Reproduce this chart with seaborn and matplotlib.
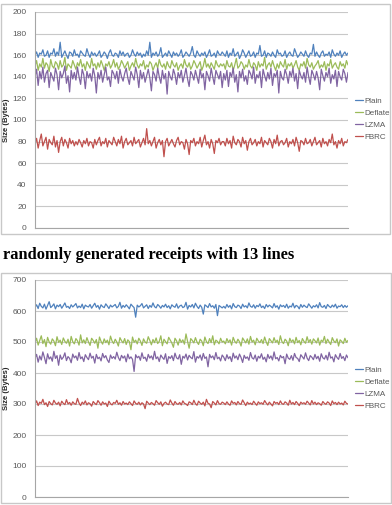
import pandas as pd
import seaborn as sns
import matplotlib.pyplot as plt
from matplotlib.patches import Rectangle

methods = ["Plain", "Deflate", "LZMA", "FBRC"]
colors = ["#4F81BD", "#9BBB59", "#8064A2", "#C0504D"]

# --- chart 1: sizes (bytes) per generated receipt ---
plain_1 = [160,163,158,162,161,165,159,160,164,158,162,161,166,159,163,160,172,158,161,164,160,157,163,162,159,165,160,161,158,164,
           162,160,159,166,161,158,163,160,162,159,161,164,158,160,163,161,157,162,165,160,159,162,161,158,164,160,163,159,161,162,
           158,160,165,161,159,163,160,162,158,161,159,164,160,172,158,162,160,163,159,161,167,158,160,162,159,164,161,158,163,160,
           162,159,161,165,158,160,163,161,159,162,168,160,158,164,161,159,162,160,163,158,161,165,159,160,162,158,164,161,160,163,
           161,159,164,158,162,160,166,159,161,163,157,160,165,162,158,161,164,159,160,163,
           158,162,161,169,159,160,164,158,162,161,159,163,160,158,165,161,162,159,160,164,
           158,161,163,160,159,166,162,158,160,163,161,159,164,160,158,162,161,170,159,163,
           160,158,162,164,159,161,160,163,158,165,161,159,162,160,164,158,161,163,160,162]
deflate_1 = [150,155,146,152,149,157,148,153,151,145,156,150,148,154,152,147,155,149,151,158,146,152,150,148,155,151,147,153,150,156,
             149,152,146,154,151,148,157,150,152,147,153,149,155,151,146,152,150,154,148,151,156,149,153,147,150,155,152,148,151,154,
             146,150,153,149,157,151,148,152,150,155,147,151,149,154,152,146,150,153,148,156,151,149,152,147,154,150,148,155,151,149,
             153,146,150,152,148,156,151,149,153,147,150,155,152,148,151,154,146,150,157,149,152,148,153,150,147,155,151,149,152,150,
             152,147,155,150,149,153,146,151,157,148,150,154,152,147,151,149,156,150,148,153,
             151,146,154,149,152,150,158,147,151,153,149,155,150,146,152,148,154,151,149,156,
             147,152,150,153,148,151,155,149,146,152,150,154,148,157,151,149,153,147,150,152,
             155,148,151,149,154,146,152,150,156,148,151,153,149,147,154,150,152,148,155,151]
lzma_1 = [140,147,132,145,138,149,135,143,146,130,144,140,136,148,142,128,145,139,143,150,134,141,126,146,138,144,137,149,140,133,
          147,142,129,145,139,143,136,148,141,125,144,138,146,135,142,149,137,140,131,146,143,138,145,134,147,140,136,143,148,139,
          133,145,141,137,149,142,130,146,138,144,135,141,147,139,127,145,142,136,148,140,134,146,138,143,124,145,140,137,147,142,
          133,144,139,146,135,141,148,138,131,145,142,137,146,140,134,147,139,143,128,145,141,136,148,140,133,146,142,138,145,130,
          143,137,146,131,144,140,148,135,142,126,145,139,147,136,141,133,146,143,138,149,
          134,142,139,145,130,147,141,136,144,138,148,132,143,140,146,125,145,139,137,147,
          142,134,145,140,148,136,143,129,146,141,138,144,135,149,140,133,146,142,137,145,
          139,128,147,141,136,144,140,148,134,142,138,146,131,145,140,137,147,143,135,144]
fbrc_1 = [78,83,74,81,87,76,80,84,73,82,79,77,85,75,81,70,80,84,76,82,79,74,83,78,81,76,80,77,82,79,
          75,81,78,83,76,80,79,74,82,77,81,84,76,80,78,83,75,81,79,77,84,80,76,82,78,85,74,80,83,77,
          79,81,76,84,78,80,82,75,79,83,77,92,78,81,76,80,84,74,79,82,77,81,66,80,83,76,79,82,78,75,
          81,84,77,80,79,73,82,78,68,81,79,83,76,80,78,84,75,81,86,77,80,74,82,78,69,81,79,83,77,80,
          80,76,83,78,81,74,85,79,77,82,80,75,84,78,81,72,80,83,77,79,
          82,76,80,78,84,75,81,79,77,83,80,74,82,78,86,76,80,81,77,79,
          83,75,80,78,82,76,84,79,71,81,80,77,83,78,79,82,76,80,84,77,
          79,81,75,83,78,80,76,82,79,87,77,80,74,81,78,83,76,80,79,82]

# --- chart 2: receipts with 13 lines ---
plain_2 = [612,620,608,625,615,610,622,606,618,630,611,616,623,607,619,614,621,609,617,626,612,615,608,620,613,618,624,610,616,611,
           622,607,619,615,613,621,609,617,625,612,618,606,620,614,611,623,616,608,619,613,617,621,610,615,628,609,618,612,620,614,
           607,622,616,611,580,619,613,617,624,610,615,620,608,618,612,626,614,610,621,616,609,618,613,622,611,617,607,620,615,612,
           623,609,616,619,611,614,628,606,618,613,621,610,625,615,608,619,612,590,620,616,611,624,613,617,609,621,585,618,614,610,
           615,609,621,612,618,607,624,614,611,619,616,608,622,613,617,610,626,615,612,620,
           609,618,614,623,611,616,608,621,613,619,615,610,624,612,617,606,620,614,618,611,
           622,609,616,613,625,610,618,615,607,621,612,619,614,611,623,616,609,617,613,620,
           610,627,614,612,618,608,621,615,611,619,613,622,609,616,614,620,611,618,612,617]
deflate_2 = [498,512,490,505,520,495,508,485,515,500,493,510,503,488,517,499,506,492,513,502,496,509,487,518,501,494,511,504,490,523,
             497,507,495,514,500,489,512,505,496,508,480,516,502,493,510,498,506,491,519,503,495,509,500,487,514,504,497,511,492,507,
             501,475,516,499,506,494,512,503,489,510,500,496,517,505,491,508,498,513,495,502,520,488,509,501,494,515,506,497,483,512,
             504,490,510,499,507,493,526,502,480,511,505,497,514,500,492,509,503,488,516,501,495,511,498,520,491,506,502,494,512,500,
             503,494,511,499,507,490,515,502,496,509,501,487,513,505,497,510,493,518,500,506,
             491,512,503,498,508,495,516,500,489,511,504,497,514,499,506,492,520,501,495,509,
             503,488,512,500,507,494,515,498,505,491,511,502,496,517,499,508,493,510,504,497,
             513,490,506,501,518,495,509,500,492,514,503,498,510,487,507,502,495,512,499,505]
lzma_2 = [448,460,435,455,442,468,450,430,462,445,452,438,470,447,456,425,458,444,451,465,440,453,447,433,461,449,455,441,466,446,
          452,437,459,450,443,464,448,454,432,460,446,451,439,463,449,456,442,434,458,447,453,445,467,450,440,457,448,455,436,461,
          446,452,444,405,459,449,454,441,465,447,451,438,460,448,455,443,470,446,452,437,458,450,444,462,431,453,447,456,440,464,
          449,445,459,428,454,448,461,442,457,450,446,469,435,453,448,458,441,463,447,452,420,460,449,455,443,466,446,451,439,458,
          451,440,459,446,453,437,464,448,455,443,461,450,434,457,447,452,441,466,449,445,
          458,438,454,448,462,444,451,436,460,447,455,442,468,446,450,439,457,449,453,430,
          461,448,444,456,441,463,450,447,437,459,452,445,465,448,440,456,451,443,460,446,
          454,438,462,449,445,457,442,467,448,452,436,459,450,444,463,447,453,440,458,449]
fbrc_2 = [300,310,295,306,302,315,298,304,292,308,301,297,312,303,299,306,294,309,302,298,314,300,305,296,307,301,299,318,303,295,
          306,300,310,297,304,301,293,308,302,298,311,304,296,307,300,303,292,309,301,297,305,302,312,299,304,296,308,300,303,298,
          307,301,295,310,302,299,306,297,304,300,285,309,303,298,305,301,296,311,304,299,307,293,302,306,300,298,313,303,296,308,
          301,299,305,297,310,302,300,295,307,304,298,312,301,296,309,303,299,306,294,315,302,300,288,308,303,297,311,301,299,306,
          303,298,307,300,296,310,302,305,297,308,301,299,313,304,295,306,300,303,298,309,
          302,296,307,301,304,299,311,303,297,306,300,294,308,302,305,298,310,301,299,307,
          303,296,312,300,305,298,308,302,295,306,301,304,299,309,303,297,311,300,306,298,
          304,301,296,308,302,299,307,303,295,310,301,305,298,306,300,303,297,309,302,300]

ticks_1 = [0, 20, 40, 60, 80, 100, 120, 140, 160, 180, 200]
ticks_2 = [0, 100, 200, 300, 400, 500, 600, 700]


def long_df(series):
    frames = []
    for name, vals in zip(methods, series):
        frames.append(pd.DataFrame({"receipt": range(len(vals)), "size": vals, "method": name}))
    return pd.concat(frames, ignore_index=True)


sns.set_theme(style="white")
plt.rcParams["font.family"] = ["Liberation Sans", "DejaVu Sans"]

W, H = 392, 505
fig = plt.figure(figsize=(W / 100, H / 100), dpi=100)


def draw(ax_box, series, ticks, legend_y):
    left, top, right, bottom = ax_box
    ax = fig.add_axes([left / W, 1 - bottom / H, (right - left) / W, (bottom - top) / H])
    df = long_df(series)
    sns.lineplot(data=df, x="receipt", y="size", hue="method", hue_order=methods,
                 palette=colors, linewidth=0.9, ax=ax, legend=True)
    n = max(len(s) for s in series)
    ax.set_xlim(0, n - 1)
    ax.set_ylim(ticks[0], ticks[-1])
    ax.set_yticks(ticks)
    ax.set_xticks([])
    ax.set_xlabel("")
    ax.set_ylabel("Size (Bytes)", fontsize=5.5, fontweight="bold", labelpad=2)
    ax.tick_params(axis="y", labelsize=6, labelcolor="#595959", length=0, pad=6)
    ax.grid(axis="y", color="#C8C8C8", linewidth=0.8)
    for side in ["top", "right"]:
        ax.spines[side].set_visible(False)
    for side in ["left", "bottom"]:
        ax.spines[side].set_color("#A6A6A6")
        ax.spines[side].set_linewidth(0.8)
    handles, labels = ax.get_legend_handles_labels()
    ax.legend(handles, labels, loc="center left", frameon=False,
              bbox_to_anchor=(351 / W, 1 - legend_y / H), bbox_transform=fig.transFigure,
              fontsize=5.8, labelcolor="#595959", handlelength=1.0, handletextpad=0.2,
              labelspacing=0.55, borderpad=0)
    return ax


draw((35, 12, 348, 228), [plain_1, deflate_1, lzma_1, fbrc_1], ticks_1, 119)
draw((35, 280, 348, 497), [plain_2, deflate_2, lzma_2, fbrc_2], ticks_2, 388)

# frames around the two pasted charts
fig.patches.append(Rectangle((0.5 / W, 1 - 234 / H), 389.5 / W, 230 / H, transform=fig.transFigure,
                             fill=False, edgecolor="#C8C8C8", linewidth=1))
fig.patches.append(Rectangle((0.5 / W, 1 - 503 / H), 390 / W, 230 / H, transform=fig.transFigure,
                             fill=False, edgecolor="#C8C8C8", linewidth=1))

fig.text(3 / W, 1 - 255 / H, "randomly generated receipts with 13 lines", ha="left", va="center",
         fontsize=11.8, fontweight="bold", family=["Liberation Serif", "DejaVu Serif"], color="black")

fig.savefig("out.png", dpi=100)
